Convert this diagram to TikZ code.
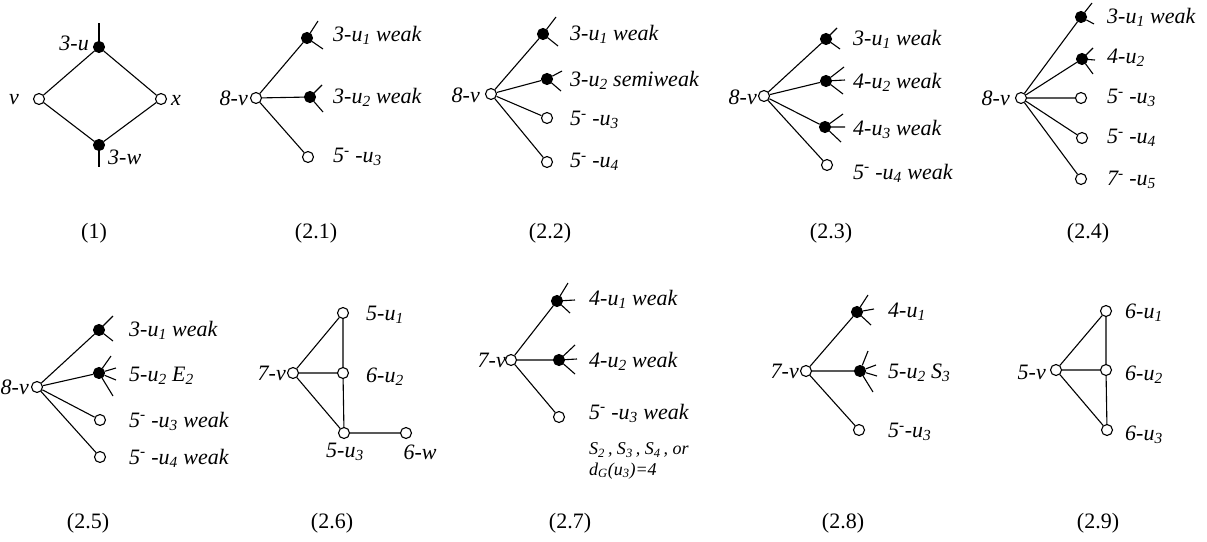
\documentclass[tikz,border=0pt]{standalone}
\usepackage{fontspec}
\setmainfont{Liberation Serif}
\newcommand{\sbs}[1]{\textsubscript{#1}}
\newcommand{\sps}[1]{\textsuperscript{#1}}
\begin{document}
\begin{tikzpicture}[x=1pt,y=-1pt,
  wv/.style={circle,draw,fill=white,inner sep=0pt,minimum size=11pt,line width=1.1pt},
  bv/.style={circle,draw,fill=black,inner sep=0pt,minimum size=11pt,line width=1.1pt},
  lbl/.style={font=\itshape\fontsize{22}{25}\selectfont,inner sep=0pt},
  slbl/.style={font=\itshape\fontsize{18}{20}\selectfont,inner sep=0pt},
  captxt/.style={font=\fontsize{22}{25}\selectfont,inner sep=0pt},
  ln/.style={line width=1.1pt}]
\useasboundingbox (0,0) rectangle (1207,541);
\fill[white] (0,0) rectangle (1207,541);

% ---------- (1)
\node[bv] (a1u) at (99,47) {};
\node[wv] (a1v) at (39,99) {};
\node[wv] (a1x) at (161,99) {};
\node[bv] (a1w) at (99,145) {};
\draw[ln] (a1u) -- (a1v) (a1u) -- (a1x) (a1v) -- (a1w) (a1x) -- (a1w);
\draw[ln] (a1u) -- +(0,-24);
\draw[ln] (a1w) -- +(0,22);
\node[lbl,anchor=east] (a1ul) at (89,43) {3-u};
\node[lbl,anchor=east] (a1vl) at (19,100) {v};
\node[lbl,anchor=west] (a1xl) at (171,100) {x};
\node[lbl,anchor=west] (a1wl) at (108,157) {3-w};
\node[captxt] (c1) at (94,233) {(1)};

% ---------- (2.1)
\node[wv] (b1v) at (256,98) {};
\node[bv] (b1u1) at (307,38) {};
\node[bv] (b1u2) at (310,97) {};
\node[wv] (b1u3) at (308,157) {};
\draw[ln] (b1v) -- (b1u1) (b1v) -- (b1u2) (b1v) -- (b1u3);
\draw[ln] (b1u1) -- +(11,-17) (b1u1) -- +(16,11);
\draw[ln] (b1u2) -- +(12,-12) (b1u2) -- +(13,15);
\node[lbl,anchor=east] (b1vl) at (248,98) {8-v};
\node[lbl,anchor=west] (b1l1) at (333,35) {3-u\sbs{1} weak};
\node[lbl,anchor=west] (b1l2) at (333,97) {3-u\sbs{2} weak};
\node[lbl,anchor=west] (b1l3) at (333,157) {5\sps{-} -u\sbs{3}};
\node[captxt] (c21) at (316,233) {(2.1)};

% ---------- (2.2)
\node[wv] (b2v) at (491,94) {};
\node[bv] (b2u1) at (543,34) {};
\node[bv] (b2u2) at (547,79) {};
\node[wv] (b2u3) at (547,118) {};
\node[wv] (b2u4) at (547,162) {};
\draw[ln] (b2v) -- (b2u1) (b2v) -- (b2u2) (b2v) -- (b2u3) (b2v) -- (b2u4);
\draw[ln] (b2u1) -- +(13,-17) (b2u1) -- +(15,12);
\draw[ln] (b2u2) -- +(15,-8) (b2u2) -- +(14,12);
\node[lbl,anchor=east] (b2vl) at (480,95) {8-v};
\node[lbl,anchor=west] (b2l1) at (570,34) {3-u\sbs{1} weak};
\node[lbl,anchor=west] (b2l2) at (570,80) {3-u\sbs{2} semiweak};
\node[lbl,anchor=west] (b2l3) at (570,120) {5\sps{-} -u\sbs{3}};
\node[lbl,anchor=west] (b2l4) at (570,162) {5\sps{-} -u\sbs{4}};
\node[captxt] (c22) at (550,233) {(2.2)};

% ---------- (2.3)
\node[wv] (b3v) at (764,96) {};
\node[bv] (b3u1) at (826,39) {};
\node[bv] (b3u2) at (826,81) {};
\node[bv] (b3u3) at (825,127) {};
\node[wv] (b3u4) at (827,165) {};
\draw[ln] (b3v) -- (b3u1) (b3v) -- (b3u2) (b3v) -- (b3u3) (b3v) -- (b3u4);
\draw[ln] (b3u1) -- +(11,-11) (b3u1) -- +(14,10);
\draw[ln] (b3u2) -- +(18,-14) (b3u2) -- +(19,-1) (b3u2) -- +(17,13);
\draw[ln] (b3u3) -- +(18,-13) (b3u3) -- +(20,0) (b3u3) -- +(16,15);
\node[lbl,anchor=east] (b3vl) at (757,97) {8-v};
\node[lbl,anchor=west] (b3l1) at (853,39) {3-u\sbs{1} weak};
\node[lbl,anchor=west] (b3l2) at (853,82) {4-u\sbs{2} weak};
\node[lbl,anchor=west] (b3l3) at (853,129) {4-u\sbs{3} weak};
\node[lbl,anchor=west] (b3l4) at (853,173) {5\sps{-} -u\sbs{4} weak};
\node[captxt] (c23) at (831,233) {(2.3)};

% ---------- (2.4)
\node[wv] (b4v) at (1021,98) {};
\node[bv] (b4u1) at (1081,17) {};
\node[bv] (b4u2) at (1082,59) {};
\node[wv] (b4u3) at (1081,98) {};
\node[wv] (b4u4) at (1082,138) {};
\node[wv] (b4u5) at (1081,179) {};
\draw[ln] (b4v) -- (b4u1) (b4v) -- (b4u2) (b4v) -- (b4u3) (b4v) -- (b4u4) (b4v) -- (b4u5);
\draw[ln] (b4u1) -- +(11,-14) (b4u1) -- +(13,7);
\draw[ln] (b4u2) -- +(11,-11) (b4u2) -- +(13,1) (b4u2) -- +(11,15);
\node[lbl,anchor=east] (b4vl) at (1010,98) {8-v};
\node[lbl,anchor=west] (b4l1) at (1107,17) {3-u\sbs{1} weak};
\node[lbl,anchor=west] (b4l2) at (1107,58) {4-u\sbs{2}};
\node[lbl,anchor=west] (b4l3) at (1107,98) {5\sps{-} -u\sbs{3}};
\node[lbl,anchor=west] (b4l4) at (1107,138) {5\sps{-} -u\sbs{4}};
\node[lbl,anchor=west] (b4l5) at (1107,180) {7\sps{-} -u\sbs{5}};
\node[captxt] (c24) at (1088,233) {(2.4)};

% ---------- (2.5)
\node[wv] (b5v) at (37,387) {};
\node[bv] (b5u1) at (99,330) {};
\node[bv] (b5u2) at (99,373) {};
\node[wv] (b5u3) at (100,420) {};
\node[wv] (b5u4) at (100,457) {};
\draw[ln] (b5v) -- (b5u1) (b5v) -- (b5u2) (b5v) -- (b5u3) (b5v) -- (b5u4);
\draw[ln] (b5u1) -- +(14,-14) (b5u1) -- +(14,11);
\draw[ln] (b5u2) -- +(12,-17) (b5u2) -- +(17,-5) (b5u2) -- +(17,7) (b5u2) -- +(14,23);
\node[lbl,anchor=east] (b5vl) at (29,387) {8-v};
\node[lbl,anchor=west] (b5l1) at (129,330) {3-u\sbs{1} weak};
\node[lbl,anchor=west] (b5l2) at (129,376) {5-u\sbs{2} E\sbs{2}};
\node[lbl,anchor=west] (b5l3) at (129,421) {5\sps{-} -u\sbs{3} weak};
\node[lbl,anchor=west] (b5l4) at (129,458) {5\sps{-} -u\sbs{4} weak};
\node[captxt] (c25) at (88,523) {(2.5)};

% ---------- (2.6)
\node[wv] (b6v) at (293,373) {};
\node[wv] (b6u1) at (343,313) {};
\node[wv] (b6u2) at (343,373) {};
\node[wv] (b6u3) at (344,433) {};
\node[wv] (b6w) at (406,433) {};
\draw[ln] (b6v) -- (b6u1) (b6v) -- (b6u2) (b6v) -- (b6u3) (b6u1) -- (b6u2) (b6u2) -- (b6u3) (b6u3) -- (b6w);
\node[lbl,anchor=east] (b6vl) at (286,373) {7-v};
\node[lbl,anchor=west] (b6l1) at (366,315) {5-u\sbs{1}};
\node[lbl,anchor=west] (b6l2) at (366,377) {6-u\sbs{2}};
\node[lbl] (b6l3) at (345,452) {5-u\sbs{3}};
\node[lbl] (b6lw) at (420,452) {6-w};
\node[captxt] (c26) at (332,523) {(2.6)};

% ---------- (2.7)
\node[wv] (b7v) at (511,360) {};
\node[bv] (b7u1) at (557,301) {};
\node[bv] (b7u2) at (559,360) {};
\node[wv] (b7u3) at (559,417) {};
\draw[ln] (b7v) -- (b7u1) (b7v) -- (b7u2) (b7v) -- (b7u3);
\draw[ln] (b7u1) -- +(11,-18) (b7u1) -- +(18,-1) (b7u1) -- +(13,12);
\draw[ln] (b7u2) -- +(16,-15) (b7u2) -- +(18,-1) (b7u2) -- +(16,14);
\node[lbl,anchor=east] (b7vl) at (506,360) {7-v};
\node[lbl,anchor=west] (b7l1) at (589,299) {4-u\sbs{1} weak};
\node[lbl,anchor=west] (b7l2) at (589,361) {4-u\sbs{2} weak};
\node[lbl,anchor=west] (b7l3) at (589,413) {5\sps{-} -u\sbs{3} weak};
\node[slbl,anchor=west] (b7s) at (589,450) {S\sbs{2}\,, S\sbs{3}\,, S\sbs{4}\,, or};
\node[slbl,anchor=west] (b7d) at (589,471) {d\sbs{G}(u\sbs{3})=4};
\node[captxt] (c27) at (570,523) {(2.7)};

% ---------- (2.8)
\node[wv] (b8v) at (806,371) {};
\node[bv] (b8u1) at (857,312) {};
\node[bv] (b8u2) at (860,371) {};
\node[wv] (b8u3) at (859,430) {};
\draw[ln] (b8v) -- (b8u1) (b8v) -- (b8u2) (b8v) -- (b8u3);
\draw[ln] (b8u1) -- +(11,-17) (b8u1) -- +(17,-3) (b8u1) -- +(14,13);
\draw[ln] (b8u2) -- +(8,-20) (b8u2) -- +(16,-6) (b8u2) -- +(17,5) (b8u2) -- +(13,21);
\node[lbl,anchor=east] (b8vl) at (799,371) {7-v};
\node[lbl,anchor=west] (b8l1) at (888,312) {4-u\sbs{1}};
\node[lbl,anchor=west] (b8l2) at (888,373) {5-u\sbs{2} S\sbs{3}};
\node[lbl,anchor=west] (b8l3) at (888,432) {5\sps{-}-u\sbs{3}};
\node[captxt] (c28) at (843,523) {(2.8)};

% ---------- (2.9)
\node[wv] (b9v) at (1056,370) {};
\node[wv] (b9u1) at (1106,311) {};
\node[wv] (b9u2) at (1106,370) {};
\node[wv] (b9u3) at (1107,430) {};
\draw[ln] (b9v) -- (b9u1) (b9v) -- (b9u2) (b9v) -- (b9u3) (b9u1) -- (b9u2) (b9u2) -- (b9u3);
\node[lbl,anchor=east] (b9vl) at (1046,372) {5-v};
\node[lbl,anchor=west] (b9l1) at (1125,313) {6-u\sbs{1}};
\node[lbl,anchor=west] (b9l2) at (1125,375) {6-u\sbs{2}};
\node[lbl,anchor=west] (b9l3) at (1125,435) {6-u\sbs{3}};
\node[captxt] (c29) at (1098,523) {(2.9)};
\end{tikzpicture}
\end{document}
